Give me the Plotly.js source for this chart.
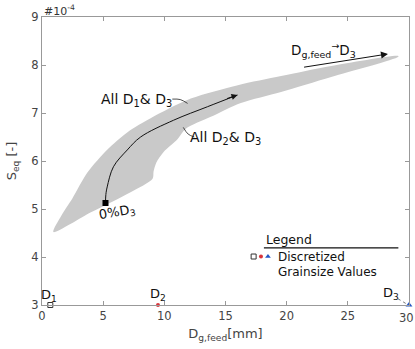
<!DOCTYPE html>
<html>
<head>
<meta charset="utf-8">
<script src="https://cdn.plot.ly/plotly-3.0.1.min.js"></script>
<style>html,body{margin:0;padding:0;background:#fff;}#chart{width:415px;height:349px;}</style>
</head>
<body>
<div id="chart"></div>
<script>
// Shaded region: upper boundary (All D1 & D3) and lower boundary (All D2 & D3)
const upperX = [0.93, 1.6, 2.48, 3.71, 5.35, 6.99, 8.88, 12.16, 16.01, 19.54, 23.64, 29.13];
const upperY = [4.52, 4.87, 5.22, 5.76, 6.24, 6.60, 6.89, 7.30, 7.58, 7.77, 7.98, 8.19];
const lowerX = [0.93, 4.0, 7.24, 9.04, 9.12, 9.35, 9.94, 11.09, 11.75, 13.8, 16.26, 19.54, 23.64, 29.13];
const lowerY = [4.52, 4.93, 5.35, 5.63, 5.78, 5.97, 6.19, 6.46, 6.67, 6.92, 7.21, 7.44, 7.75, 8.17];
// 0% D3 path curve
const curveX = [5.19, 5.22, 5.33, 5.84, 6.97, 8.06, 10.76, 13.52, 15.98];
const curveY = [5.125, 5.3, 5.46, 5.88, 6.23, 6.5, 6.85, 7.13, 7.375];
// Discretized grain size values
const grainNames = ['D<sub>1</sub>', 'D<sub>2</sub>', 'D<sub>3</sub>'];
const grainX = [0.68, 9.48, 30];
const grainY = [3, 3, 3];
// tick labels
const xTicks = [0, 5, 10, 15, 20, 25, 30];
const yTicks = [3, 4, 5, 6, 7, 8, 9];
// leader lines
const leader1X = [10.65, 11.3, 11.9], leader1Y = [7.29, 7.28, 7.2];
const leader2X = [11.55, 11.95, 12.45], leader2Y = [6.70, 6.56, 6.50];
const leader3X = [29.1, 29.75], leader3Y = [3.13, 3.03];

const polyX = upperX.concat(lowerX.slice().reverse());
const polyY = upperY.concat(lowerY.slice().reverse());

const FONT = 'DejaVu Sans, Verdana, sans-serif';
const traces = [
  {x: polyX, y: polyY, type: 'scatter', mode: 'lines', fill: 'toself',
   fillcolor: '#c9c9c9', line: {width: 0, color: '#c9c9c9', shape: 'spline', smoothing: 0.8}, hoverinfo: 'skip'},
  {x: curveX, y: curveY, type: 'scatter', mode: 'lines', line: {color: '#111', width: 1, shape: 'spline'}},
  {x: [curveX[0]], y: [curveY[0]], type: 'scatter', mode: 'markers',
   marker: {symbol: 'square', size: 6, color: '#000'}},
  {x: leader1X, y: leader1Y, type: 'scatter', mode: 'lines', line: {color: '#222', width: 0.8, shape: 'spline'}},
  {x: leader2X, y: leader2Y, type: 'scatter', mode: 'lines', line: {color: '#222', width: 0.8, shape: 'spline'}},
  {x: leader3X, y: leader3Y, type: 'scatter', mode: 'lines', line: {color: '#555', width: 0.8, dash: 'dot'}},
  {x: [grainX[0]], y: [grainY[0]], type: 'scatter', mode: 'markers', cliponaxis: false,
   marker: {symbol: 'square-open', size: 5, color: '#333', line: {width: 1}}},
  {x: [grainX[1]], y: [grainY[1]], type: 'scatter', mode: 'markers', cliponaxis: false,
   marker: {symbol: 'circle', size: 4, color: '#d9343b'}},
  {x: [grainX[2]], y: [grainY[2]], type: 'scatter', mode: 'markers', cliponaxis: false,
   marker: {symbol: 'triangle-up', size: 6, color: '#2457c5'}}
];

const ann = [];
function txt(x, y, text, opts) {
  ann.push(Object.assign({x: x, y: y, xref: 'x', yref: 'y', text: text, showarrow: false,
    font: {family: FONT, size: 14, color: '#111'}}, opts || {}));
}
txt(7.74, 7.27, 'All D<sub>1</sub>& D<sub>3</sub>');
txt(15.0, 6.47, 'All D<sub>2</sub>& D<sub>3</sub>');
txt(6.2, 4.92, '0%D<sub>3</sub>', {textangle: -10, font: {family: FONT, size: 13, color: '#111'}});
txt(23.0, 8.31, 'D<sub>g,feed</sub><sup>→</sup>D<sub>3</sub>', {font: {family: FONT, size: 13.5, color: '#111'}});
txt(0.55, 3.2, grainNames[0], {font: {family: FONT, size: 13, color: '#111'}});
txt(9.5, 3.21, grainNames[1], {font: {family: FONT, size: 13, color: '#111'}});
txt(28.5, 3.24, grainNames[2], {font: {family: FONT, size: 13, color: '#111'}});
txt(18.14, 4.375, 'Legend', {xanchor: 'left', font: {family: FONT, size: 12.5, color: '#111'}});
txt(19.1, 3.99, 'Discretized', {xanchor: 'left', font: {family: FONT, size: 12, color: '#111'}});
txt(19.1, 3.68, 'Grainsize Values', {xanchor: 'left', font: {family: FONT, size: 12, color: '#111'}});
// last x tick label (placed so it stays inside the page)
ann.push({x: 1, y: 0, xref: 'paper', yref: 'paper', xanchor: 'right', yanchor: 'top',
  xshift: 6.5, yshift: -4, text: String(xTicks[xTicks.length - 1]), showarrow: false,
  font: {family: FONT, size: 11.5, color: '#444'}});
// arrowheads
ann.push({x: curveX[curveX.length - 1], y: curveY[curveY.length - 1], ax: 15.0, ay: 7.29,
  xref: 'x', yref: 'y', axref: 'x', ayref: 'y', text: '', showarrow: true,
  arrowhead: 2, arrowsize: 1.2, arrowwidth: 1, arrowcolor: '#111', standoff: 0});
ann.push({x: 28.28, y: 8.23, ax: 21.3, ay: 7.95,
  xref: 'x', yref: 'y', axref: 'x', ayref: 'y', text: '', showarrow: true,
  arrowhead: 2, arrowsize: 1.4, arrowwidth: 1, arrowcolor: '#111', standoff: 0});
// exponent
ann.push({x: 0, y: 1, xref: 'paper', yref: 'paper', xanchor: 'left', yanchor: 'bottom',
  text: '#10<sup>-4</sup>', showarrow: false, yshift: -3,
  font: {family: FONT, size: 11, color: '#333'}});

const legendMarks = [
  {x: [17.3], y: [4.01], type: 'scatter', mode: 'markers', marker: {symbol: 'square-open', size: 5, color: '#333'}},
  {x: [17.9], y: [4.01], type: 'scatter', mode: 'markers', marker: {symbol: 'circle', size: 4, color: '#d9343b'}},
  {x: [18.47], y: [4.01], type: 'scatter', mode: 'markers', marker: {symbol: 'triangle-up', size: 5, color: '#2457c5'}}
];

const axisCommon = {showline: true, linecolor: '#999', linewidth: 1, mirror: 'ticks',
  ticks: 'inside', ticklen: 4, tickcolor: '#999', showgrid: false, zeroline: false,
  tickfont: {family: FONT, size: 11.5, color: '#444'}};

const layout = {
  width: 415, height: 349,
  margin: {l: 42, r: 6, t: 17, b: 44},
  paper_bgcolor: '#fff', plot_bgcolor: '#fff',
  showlegend: false,
  xaxis: Object.assign({}, axisCommon, {range: [0, 30], tickmode: 'array', tickvals: xTicks,
    ticktext: xTicks.map((v, i) => i === xTicks.length - 1 ? '' : String(v)),
    title: {text: 'D<sub>g,feed</sub>[mm]', standoff: 7,
      font: {family: FONT, size: 13, color: '#444'}}}),
  yaxis: Object.assign({}, axisCommon, {range: [3, 9], tickmode: 'array', tickvals: yTicks,
    ticktext: yTicks.map(String),
    title: {text: 'S<sub>eq</sub> [-]', standoff: 11,
      font: {family: FONT, size: 13, color: '#444'}}}),
  annotations: ann,
  shapes: [{type: 'line', xref: 'x', yref: 'y', x0: 18.14, x1: 29.13, y0: 4.19, y1: 4.19,
    line: {color: '#111', width: 1.2}}]
};

Plotly.newPlot('chart', traces.concat(legendMarks), layout, {staticPlot: true, displayModeBar: false});
</script>
</body>
</html>
